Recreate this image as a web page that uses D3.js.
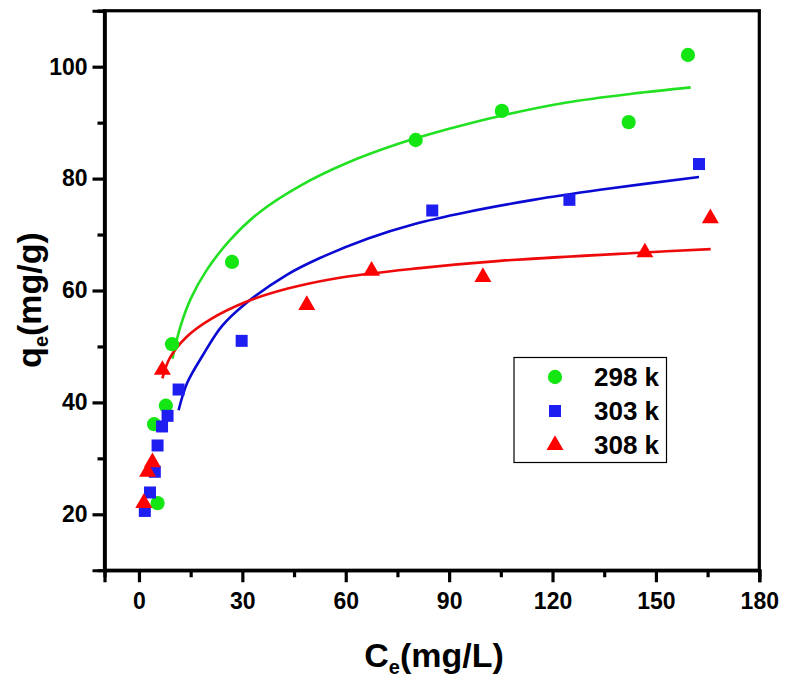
<!DOCTYPE html>
<html><head><meta charset="utf-8">
<script src="https://cdn.jsdelivr.net/npm/d3@7/dist/d3.min.js"></script>
<style>
html,body{margin:0;padding:0;background:#fff;}
svg{display:block;font-family:"Liberation Sans",Arial,sans-serif;font-weight:bold;}
</style></head>
<body><svg id="chart" width="789" height="683"></svg>
<script>
// ---- data ----
const seriesNames = ["298 k", "303 k", "308 k"];
const seriesColors = ["#14e614", "#1e1ef0", "#ff0000"];
const lineColors = ["#22e022", "#0a0ad2", "#ee0a0a"];
const seriesSymbols = ["circle", "square", "triangle"];

const x298 = [5.4, 4.4, 7.8, 9.6, 27.0, 80.3, 105.3, 142.1, 159.3];
const y298 = [22.0, 36.1, 39.4, 50.4, 65.1, 86.9, 92.1, 90.1, 102.1];
const x303 = [1.7, 3.2, 4.6, 5.4, 6.7, 8.3, 11.5, 29.8, 85.1, 124.9, 162.5];
const y303 = [20.6, 23.9, 27.6, 32.3, 35.7, 37.6, 42.3, 51.0, 74.3, 76.2, 82.6];
const x308 = [1.4, 2.5, 3.9, 6.8, 48.7, 67.5, 99.8, 146.8, 165.8];
const y308 = [22.0, 27.6, 29.3, 45.8, 57.4, 63.5, 62.4, 66.8, 72.9];

// fitted curves, points
const fit298x = [9.7, 12, 15, 19.6, 26.4, 35, 47, 60, 75.7, 90, 104.8, 124.1, 143.5, 160.1];
const fit298y = [47.8, 53.5, 58.5, 63.6, 69.0, 74.0, 78.8, 82.7, 86.3, 88.9, 91.2, 93.6, 95.2, 96.3];
const fit303x = [11.5, 14, 18.7, 24, 30.8, 42.9, 52.5, 66.5, 80, 95, 114.4, 133.8, 162.5];
const fit303y = [38.6, 43.5, 48.6, 53.6, 57.6, 62.8, 65.8, 69.3, 71.9, 74.0, 76.2, 78.0, 80.3];
const fit308x = [6.8, 9.0, 13.8, 20.6, 30.8, 42.9, 57.4, 81.5, 104.8, 146.8, 165.9];
const fit308y = [44.3, 48.0, 51.7, 54.8, 57.9, 60.3, 62.2, 64.0, 65.3, 66.8, 67.4];

const xDomain = [-10, 180];
const yDomain = [10, 110];
const xTicks = [0, 30, 60, 90, 120, 150, 180];
const xMinor = [15, 45, 75, 105, 135, 165];
const yTicks = [20, 40, 60, 80, 100];
const yMinor = [30, 50, 70, 90, 110];

// ---- drawing ----
const svg = d3.select("#chart");
const L = 104.5, R = 759.3, T = 10.75, B = 570.25;
const x = d3.scaleLinear().domain(xDomain).range([L, R]);
const y = d3.scaleLinear().domain(yDomain).range([B, T]);

// frame (top/right)
svg.append("rect").attr("x", L).attr("y", T).attr("width", R - L).attr("height", B - T)
  .attr("fill", "none").style("stroke", "#000").style("stroke-width", "3.2px");

const xAxis = d3.axisBottom(x).tickValues(xTicks).tickSize(12).tickPadding(10).tickFormat(d3.format("d"));
const gx = svg.append("g").attr("transform", `translate(0,${B})`).call(xAxis);
const xAxisMinor = d3.axisBottom(x).tickValues(xMinor).tickSize(7).tickFormat("");
const gxm = svg.append("g").attr("transform", `translate(0,${B})`).call(xAxisMinor);

const yAxis = d3.axisLeft(y).tickValues(yTicks).tickSize(12).tickPadding(5).tickFormat(d3.format("d"));
const gy = svg.append("g").attr("transform", `translate(${L},0)`).call(yAxis);
const yAxisMinor = d3.axisLeft(y).tickValues(yMinor).tickSize(7).tickFormat("");
const gym = svg.append("g").attr("transform", `translate(${L},0)`).call(yAxisMinor);

[gx, gxm, gy, gym].forEach(g => {
  g.select(".domain").style("stroke", "#000").style("stroke-width", "3.2px");
  g.selectAll(".tick line").style("stroke", "#000").style("stroke-width", "3.2px");
  g.selectAll("text").style("font-size", "23px").style("font-weight", "bold")
    .style("font-family", "'Liberation Sans', Arial, sans-serif").style("fill", "#000");
});

// curves
const fits = [[fit298x, fit298y], [fit303x, fit303y], [fit308x, fit308y]];
const line = d3.line().x(d => x(d[0])).y(d => y(d[1])).curve(d3.curveCatmullRom.alpha(0.5));
fits.forEach((f, i) => {
  const pts = f[0].map((v, k) => [v, f[1][k]]);
  svg.append("path").datum(pts).attr("d", line).attr("fill", "none")
    .attr("stroke", lineColors[i]).attr("stroke-width", 2.6);
});

// points
const symType = {circle: d3.symbolCircle, square: d3.symbolSquare, triangle: d3.symbolTriangle};
const symSize = {circle: 160, square: 144, triangle: 125};
const series = [[x298, y298], [x303, y303], [x308, y308]];
series.forEach((s, i) => {
  const pts = s[0].map((v, k) => [v, s[1][k]]);
  const sym = d3.symbol().type(symType[seriesSymbols[i]]).size(symSize[seriesSymbols[i]]);
  svg.append("g").selectAll("path").data(pts).join("path")
    .attr("d", sym)
    .attr("transform", d => `translate(${x(d[0])},${y(d[1])})`)
    .attr("fill", seriesColors[i]);
});

// legend
const lg = svg.append("g");
lg.append("rect").attr("x", 514).attr("y", 357.5).attr("width", 152.5).attr("height", 105)
  .attr("fill", "#fff").attr("stroke", "#000").attr("stroke-width", 1.2);
seriesNames.forEach((n, i) => {
  const cy = 377 + i * 34;
  const sym = d3.symbol().type(symType[seriesSymbols[i]]).size(symSize[seriesSymbols[i]]);
  lg.append("path").attr("d", sym).attr("transform", `translate(555,${cy})`).attr("fill", seriesColors[i]);
  lg.append("text").attr("x", 594).attr("y", cy + 9).attr("font-size", 26).attr("fill", "#000").text(n);
});

// axis titles
const xt = svg.append("text").attr("x", 434).attr("y", 667).attr("text-anchor", "middle")
  .attr("font-size", 34).attr("fill", "#000");
xt.append("tspan").text("C");
xt.append("tspan").attr("font-size", 20).attr("dy", 7).text("e");
xt.append("tspan").attr("dy", -7).text("(mg/L)");

const yt = svg.append("text").attr("transform", "translate(41,300) rotate(-90)").attr("text-anchor", "middle")
  .attr("font-size", 34).attr("fill", "#000");
yt.append("tspan").text("q");
yt.append("tspan").attr("font-size", 20).attr("dy", 7).text("e");
yt.append("tspan").attr("dy", -7).text("(mg/g)");
</script></body></html>
